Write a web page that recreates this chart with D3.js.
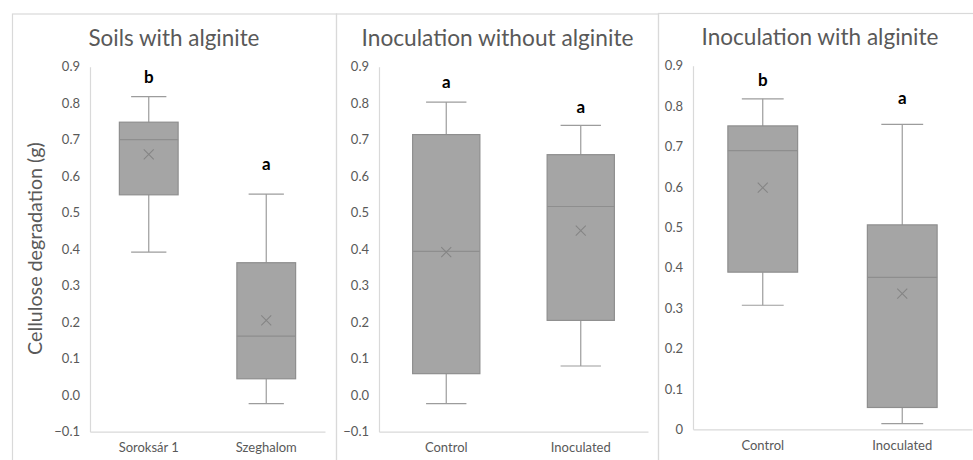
<!DOCTYPE html>
<html>
<head>
<meta charset="utf-8">
<script src="https://cdn.jsdelivr.net/npm/d3@7"></script>
<style>
  html, body { margin: 0; padding: 0; background: #fff; }
  svg { display: block; }
  text { font-family: Lato, "Open Sans", sans-serif; }
</style>
</head>
<body>
<svg id="chart" width="973" height="460"></svg>
<script>
// Cellulose degradation box plots, three panels
const panelTitles = ["Soils with alginite", "Inoculation without alginite", "Inoculation with alginite"];
const categories = [["Soroksár 1", "Szeghalom"], ["Control", "Inoculated"], ["Control", "Inoculated"]];
const whiskerLow  = [[0.392, -0.023], [-0.023, 0.080], [0.307, 0.014]];
const q1          = [[0.549, 0.045], [0.059, 0.205], [0.389, 0.054]];
const median      = [[0.700, 0.162], [0.394, 0.517], [0.690, 0.376]];
const q3          = [[0.748, 0.363], [0.714, 0.659], [0.751, 0.506]];
const whiskerHigh = [[0.818, 0.551], [0.803, 0.739], [0.818, 0.755]];
const mean        = [[0.660, 0.205], [0.392, 0.451], [0.598, 0.336]];
const letters     = [["b", "a"], ["a", "a"], ["b", "a"]];
const letterAt    = [[0.872, 0.633], [0.859, 0.790], [0.865, 0.820]];
const yTicks = [
  [-0.1, 0, 0.1, 0.2, 0.3, 0.4, 0.5, 0.6, 0.7, 0.8, 0.9],
  [-0.1, 0, 0.1, 0.2, 0.3, 0.4, 0.5, 0.6, 0.7, 0.8, 0.9],
  [0, 0.1, 0.2, 0.3, 0.4, 0.5, 0.6, 0.7, 0.8, 0.9]
];
const yDomains = [[-0.1, 0.9], [-0.1, 0.9], [0, 0.9]];
const yTitle = "Cellulose degradation (g)";

// Panel geometry
const layout = [
  { fx0: 12,  fx1: 336, ftop: 13.5, left: 90,  right: 325, top: 66.7, bottom: 431.7, titleX: 174, titleY: 46, titleW: 171 },
  { fx0: 336, fx1: 658, ftop: 13.5, left: 379, right: 648, top: 66.7, bottom: 431.7, titleX: 497.5, titleY: 46, titleW: 272 },
  { fx0: 658, fx1: 990, ftop: 13,   left: 693, right: 972, top: 65.7, bottom: 429.3, titleX: 820, titleY: 45, titleW: 237 }
];

const textGrey = "#595959";
const axisGrey = "#d9d9d9";
const boxFill = "#a5a5a5";
const boxStroke = "#8e8e8e";
const whiskerCol = "#9c9c9c";

const svg = d3.select("#chart");
const fmt = d3.format(".1f");

function fitWidth(sel, target) {
  const node = sel.node();
  const fs = parseFloat(sel.attr("font-size"));
  const w = node.getComputedTextLength();
  sel.attr("font-size", (fs * target / w).toFixed(2));
}

layout.forEach((L, p) => {
  const g = svg.append("g");

  // panel frame
  g.append("rect")
    .attr("x", L.fx0 + 0.5).attr("y", L.ftop + 0.5)
    .attr("width", L.fx1 - L.fx0).attr("height", 600)
    .attr("fill", "none").attr("stroke", axisGrey).attr("stroke-width", 1.2);

  const y = d3.scaleLinear().domain(yDomains[p]).range([L.bottom, L.top]);
  const x = d3.scaleBand().domain(categories[p]).range([L.left, L.right]).padding(0);
  const bw = x.bandwidth() * 0.5;
  const cap = bw * 0.3;

  // y axis
  const yAxis = d3.axisLeft(y).tickValues(yTicks[p]).tickSize(0).tickPadding(10)
    .tickFormat(d => (p === 2 && d === 0) ? "0" : fmt(d));
  const ya = g.append("g").attr("transform", `translate(${L.left},0)`).call(yAxis);
  ya.select(".domain").attr("stroke", axisGrey).attr("stroke-width", 1.2);
  ya.selectAll("text").attr("fill", textGrey).attr("font-size", 13)
    .attr("font-family", "Lato, 'Open Sans', sans-serif");

  // x axis along the bottom of the plot
  const xAxis = d3.axisBottom(x).tickSize(0).tickPadding(11);
  const xa = g.append("g").attr("transform", `translate(0,${L.bottom})`).call(xAxis);
  xa.select(".domain").attr("stroke", axisGrey).attr("stroke-width", 1.2);
  xa.selectAll("text").attr("fill", textGrey).attr("font-size", 13)
    .attr("font-family", "Lato, 'Open Sans', sans-serif");

  // title
  const t = g.append("text")
    .attr("x", L.titleX).attr("y", L.titleY)
    .attr("text-anchor", "middle")
    .attr("fill", textGrey).attr("font-size", 21)
    .text(panelTitles[p]);
  fitWidth(t, L.titleW);

  const idx = d3.range(categories[p].length);
  const boxes = g.selectAll(".box").data(idx).join("g").attr("class", "box");

  const cx = i => x(categories[p][i]) + x.bandwidth() / 2;

  // whiskers
  boxes.append("line")
    .attr("x1", cx).attr("x2", cx)
    .attr("y1", i => y(q3[p][i])).attr("y2", i => y(whiskerHigh[p][i]))
    .attr("stroke", whiskerCol).attr("stroke-width", 1.2);
  boxes.append("line")
    .attr("x1", cx).attr("x2", cx)
    .attr("y1", i => y(q1[p][i])).attr("y2", i => y(whiskerLow[p][i]))
    .attr("stroke", whiskerCol).attr("stroke-width", 1.2);
  boxes.append("line")
    .attr("x1", i => cx(i) - cap).attr("x2", i => cx(i) + cap)
    .attr("y1", i => y(whiskerHigh[p][i])).attr("y2", i => y(whiskerHigh[p][i]))
    .attr("stroke", whiskerCol).attr("stroke-width", 1.2);
  boxes.append("line")
    .attr("x1", i => cx(i) - cap).attr("x2", i => cx(i) + cap)
    .attr("y1", i => y(whiskerLow[p][i])).attr("y2", i => y(whiskerLow[p][i]))
    .attr("stroke", whiskerCol).attr("stroke-width", 1.2);

  // interquartile box
  boxes.append("rect")
    .attr("x", i => cx(i) - bw / 2).attr("width", bw)
    .attr("y", i => y(q3[p][i])).attr("height", i => y(q1[p][i]) - y(q3[p][i]))
    .attr("fill", boxFill).attr("stroke", boxStroke).attr("stroke-width", 1.2);

  // median
  boxes.append("line")
    .attr("x1", i => cx(i) - bw / 2).attr("x2", i => cx(i) + bw / 2)
    .attr("y1", i => y(median[p][i])).attr("y2", i => y(median[p][i]))
    .attr("stroke", boxStroke).attr("stroke-width", 1.2);

  // mean marker
  const m = 5;
  boxes.append("path")
    .attr("d", i => {
      const X = cx(i), Y = y(mean[p][i]);
      return `M${X - m},${Y - m}L${X + m},${Y + m}M${X - m},${Y + m}L${X + m},${Y - m}`;
    })
    .attr("stroke", "#858585").attr("stroke-width", 1.1).attr("fill", "none");

  // significance letters
  boxes.append("text")
    .attr("x", cx).attr("y", i => y(letterAt[p][i]))
    .attr("dy", "0.35em")
    .attr("text-anchor", "middle")
    .attr("font-weight", "bold").attr("font-size", 17).attr("fill", "#000")
    .text(i => letters[p][i]);
});

// shared y axis title
const yt = svg.append("text")
  .attr("transform", "translate(42,248.5) rotate(-90)")
  .attr("text-anchor", "middle")
  .attr("fill", textGrey).attr("font-size", 19)
  .text(yTitle);
fitWidth(yt, 213);
</script>
</body>
</html>
